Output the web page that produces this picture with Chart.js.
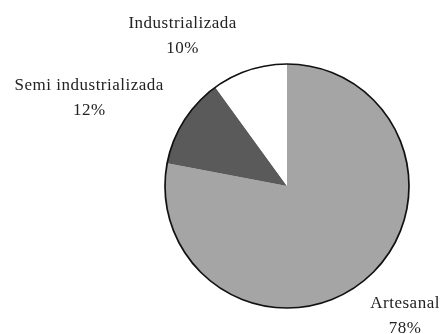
<!DOCTYPE html>
<html>
<head>
<meta charset="utf-8">
<style>
  html, body { margin: 0; padding: 0; background: #ffffff; }
  #wrap { width: 442px; height: 334px; }
</style>
<script src="https://cdn.jsdelivr.net/npm/chart.js@4/dist/chart.umd.min.js"></script>
</head>
<body>
<div id="wrap"><canvas id="pie" width="442" height="334"></canvas></div>
<script>
// Production type shares (%)
const categories = ['Artesanal', 'Semi industrializada', 'Industrializada'];
const shares = [78, 12, 10];
const sliceColors = ['#a5a5a5', '#5a5a5a', '#ffffff'];

// Places each label around its slice: angular turn (deg) from the slice's
// mid-angle and a distance as a multiple of the pie radius.
const labelPlacement = [
  { turn: -3, reach: 1.43 },
  { turn: -8, reach: 1.78 },
  { turn: -16.5, reach: 1.51 }
];

const outlinePlugin = {
  id: 'outline',
  afterDatasetsDraw(chart) {
    const arc = chart.getDatasetMeta(0).data[0];
    if (!arc) return;
    const { x, y, outerRadius } = arc.getProps(['x', 'y', 'outerRadius'], true);
    const ctx = chart.ctx;
    ctx.save();
    ctx.beginPath();
    ctx.arc(x, y, outerRadius, 0, Math.PI * 2);
    ctx.lineWidth = 1.7;
    ctx.strokeStyle = '#111111';
    ctx.stroke();
    ctx.restore();
  }
};

const labelPlugin = {
  id: 'sliceLabels',
  afterDraw(chart) {
    const meta = chart.getDatasetMeta(0);
    const ctx = chart.ctx;
    ctx.save();
    ctx.font = '17px "Liberation Serif", "Times New Roman", serif';
    ctx.letterSpacing = '0.5px';
    ctx.fillStyle = '#222222';
    ctx.textAlign = 'center';
    ctx.textBaseline = 'middle';
    meta.data.forEach((arc, i) => {
      const p = arc.getProps(['x', 'y', 'startAngle', 'endAngle', 'outerRadius'], true);
      const mid = (p.startAngle + p.endAngle) / 2 + labelPlacement[i].turn * Math.PI / 180;
      const d = p.outerRadius * labelPlacement[i].reach;
      const cx = p.x + Math.cos(mid) * d;
      const cy = p.y + Math.sin(mid) * d;
      ctx.fillText(categories[i], cx, cy - 11);
      ctx.fillText(shares[i] + '%', cx, cy + 14);
    });
    ctx.restore();
  }
};

new Chart(document.getElementById('pie'), {
  type: 'pie',
  data: {
    labels: categories,
    datasets: [{
      data: shares,
      backgroundColor: sliceColors,
      borderWidth: 0
    }]
  },
  options: {
    responsive: false,
    animation: false,
    layout: { padding: { left: 165, right: 33, top: 64, bottom: 26 } },
    plugins: {
      legend: { display: false },
      tooltip: { enabled: false }
    }
  },
  plugins: [outlinePlugin, labelPlugin]
});
</script>
</body>
</html>
